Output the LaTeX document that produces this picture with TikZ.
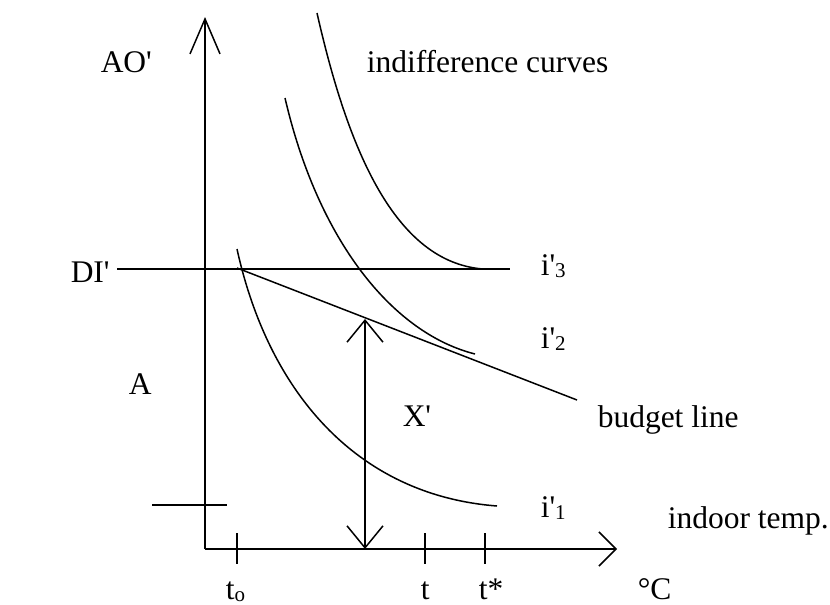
\documentclass[tikz,border=0pt]{standalone}
\usepackage{fontspec}
\setmainfont{Liberation Serif}[Ligatures=TeXOff]
\usetikzlibrary{arrows.meta}
\newcommand{\mysub}[1]{\raisebox{-2pt}{\fontsize{21}{21}\selectfont #1}}
\begin{document}
\begin{tikzpicture}[x=1pt,y=-1pt,line width=1.5pt,
  lbl/.style={anchor=base west,inner sep=0pt,font=\fontsize{31.5}{36}\selectfont},
  curve/.style={line width=1.5pt},
  xarrow/.style={-{Straight Barb[length=17pt,width=34pt]}},
  yarrow/.style={-{Straight Barb[length=35pt,width=30pt]}},
  dblarrow/.style={{Straight Barb[length=22pt,width=36pt]}-{Straight Barb[length=22pt,width=36pt]}}]
\useasboundingbox (0,0) rectangle (830,605);
% axes
\coordinate (O) at (205,549);
\coordinate (ytip) at (205,17);
\coordinate (xtip) at (617,549);
\draw[yarrow] (O) -- (ytip);
\draw[xarrow] (O) -- (xtip);
% ticks
\coordinate (t0a) at (237,533); \coordinate (t0b) at (237,564);
\coordinate (ta) at (425,533); \coordinate (tb) at (425,564);
\coordinate (tsa) at (485,533); \coordinate (tsb) at (485,564);
\draw (t0a) -- (t0b);
\draw (ta) -- (tb);
\draw (tsa) -- (tsb);
% small horizontal mark on y axis
\coordinate (ma) at (152,505); \coordinate (mb) at (227,505);
\draw (ma) -- (mb);
% DI' line
\coordinate (dia) at (117,269); \coordinate (dib) at (510,269);
\draw (dia) -- (dib);
% budget line
\coordinate (ba) at (237,268); \coordinate (bb) at (577,400);
\draw (ba) -- (bb);
% indifference curves
\coordinate (c3a) at (317,13); \coordinate (c3b) at (483,269);
\coordinate (c2a) at (285,98); \coordinate (c2b) at (475,354);
\coordinate (c1a) at (237,249); \coordinate (c1b) at (497,506);
\draw[curve] (c3a) .. controls (348,150) and (395,262) .. (c3b);
\draw[curve] (c2a) .. controls (318,240) and (392,333) .. (c2b);
\draw[curve] (c1a) .. controls (268,390) and (355,495) .. (c1b);
% X' arrow
\coordinate (xa) at (365,319); \coordinate (xb) at (365,549);
\draw[dblarrow] (xa) -- (xb);
% labels
\node[lbl] (AO) at (100,72) {AO'};
\node[lbl] (ic) at (366,72) {indifference curves};
\node[lbl] (DI) at (70,282) {DI'};
\node[lbl] (i3) at (540,275) {i'\mysub{3}};
\node[lbl] (i2) at (540,348) {i'\mysub{2}};
\node[lbl] (bl) at (597,427) {budget line};
\node[lbl] (i1) at (540,517) {i'\mysub{1}};
\node[lbl] (it) at (667,528) {indoor temp.};
\node[lbl] (A) at (128,394) {A};
\node[lbl] (X) at (402,426) {X'};
\node[lbl] (t0) at (225,599) {t\mysub{o}};
\node[lbl] (t) at (420,599) {t};
\node[lbl] (ts) at (478,599) {t*};
\node[lbl] (C) at (637,599) {°C};
\end{tikzpicture}
\end{document}
